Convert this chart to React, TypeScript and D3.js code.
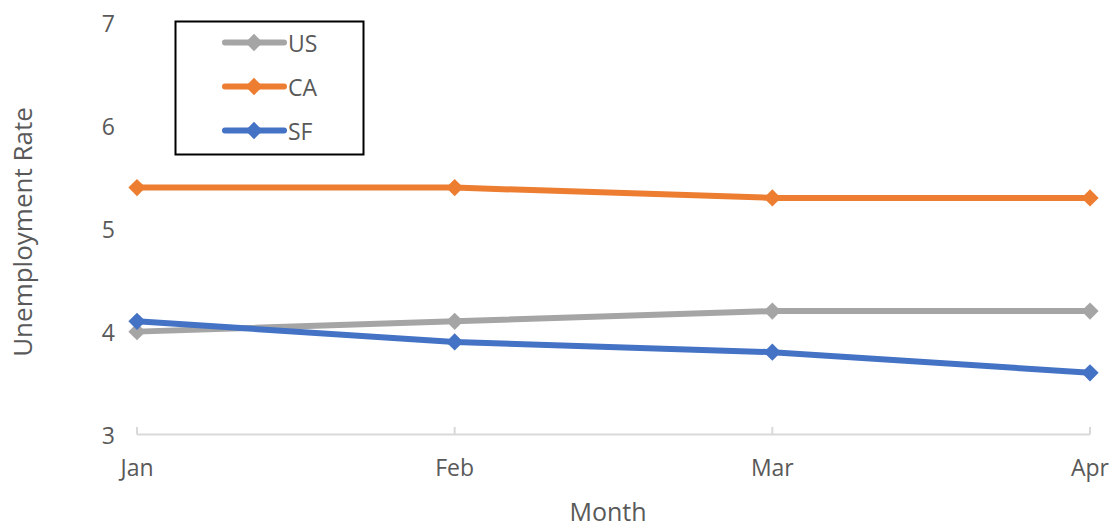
import React from "react";
import * as d3 from "d3";

const months = ["Jan", "Feb", "Mar", "Apr"];
const usRate = [4.0, 4.1, 4.2, 4.2];
const caRate = [5.4, 5.4, 5.3, 5.3];
const sfRate = [4.1, 3.9, 3.8, 3.6];
const yTicks = [3, 4, 5, 6, 7];

const series = [
  { name: "US", color: "#a5a5a5", values: usRate },
  { name: "CA", color: "#ed7d31", values: caRate },
  { name: "SF", color: "#4472c4", values: sfRate },
];

const W = 1114;
const H = 529;
const FONT = "'Open Sans', sans-serif";
const TEXT = "#595959";

const x = d3.scalePoint<string>().domain(months).range([137, 1090]);
const y = d3.scaleLinear().domain([3, 7]).range([434.5, 23]);

const diamond = d3.symbol().type(d3.symbolDiamond2).size(190);

export default function App() {
  const line = d3
    .line<number>()
    .x((_, i) => x(months[i]) as number)
    .y((d) => y(d));

  return (
    <svg
      width={W}
      height={H}
      style={{ position: "absolute", left: 0, top: 0, background: "#fff" }}
      fontFamily={FONT}
    >
      {/* y tick labels */}
      {yTicks.map((t) => (
        <text
          key={t}
          x={115}
          y={y(t)}
          textAnchor="end"
          dominantBaseline="central"
          fontSize={23}
          fill={TEXT}
        >
          {t}
        </text>
      ))}

      {/* x axis */}
      <line x1={x("Jan")} x2={x("Apr")} y1={434.5} y2={434.5} stroke="#d9d9d9" strokeWidth={2} />
      {months.map((m) => (
        <g key={m}>
          <line x1={x(m)} x2={x(m)} y1={427} y2={434.5} stroke="#d9d9d9" strokeWidth={2} />
          <text
            x={x(m)}
            y={467}
            textAnchor="middle"
            dominantBaseline="central"
            fontSize={23}
            fill={TEXT}
          >
            {m}
          </text>
        </g>
      ))}

      {/* series lines and markers */}
      {series.map((s) => (
        <g key={s.name}>
          <path d={line(s.values) || ""} fill="none" stroke={s.color} strokeWidth={6} strokeLinejoin="round" />
          {s.values.map((v, i) => (
            <path
              key={i}
              d={diamond() || ""}
              transform={`translate(${x(months[i])},${y(v)})`}
              fill={s.color}
            />
          ))}
        </g>
      ))}

      {/* axis titles */}
      <text
        x={608}
        y={511}
        textAnchor="middle"
        dominantBaseline="central"
        fontSize={25}
        fill={TEXT}
      >
        Month
      </text>
      <text
        transform={`translate(22,232) rotate(-90)`}
        textAnchor="middle"
        dominantBaseline="central"
        fontSize={26}
        fill={TEXT}
      >
        Unemployment Rate
      </text>

      {/* legend */}
      <rect x={175.5} y={21.5} width={188} height={133} fill="#fff" stroke="#000" strokeWidth={2} />
      {series.map((s, i) => {
        const ly = 42.5 + i * 44;
        return (
          <g key={s.name}>
            <line x1={225} x2={284} y1={ly} y2={ly} stroke={s.color} strokeWidth={6} strokeLinecap="round" />
            <path d={diamond() || ""} transform={`translate(254,${ly})`} fill={s.color} />
            <text x={288} y={ly} dominantBaseline="central" fontSize={23} fill={TEXT}>
              {s.name}
            </text>
          </g>
        );
      })}
    </svg>
  );
}
